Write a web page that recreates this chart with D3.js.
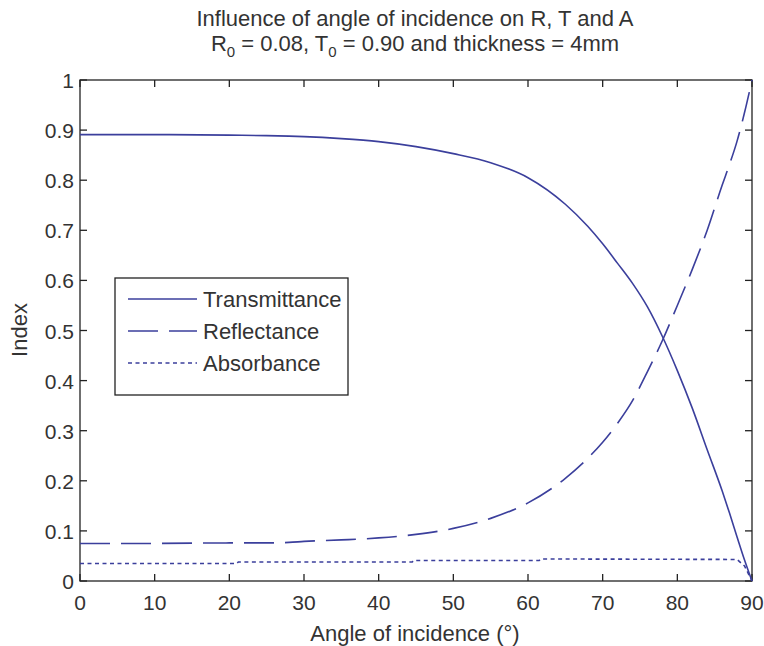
<!DOCTYPE html>
<html><head><meta charset="utf-8">
<script src="https://cdn.jsdelivr.net/npm/d3@7"></script>
<style>body{margin:0;background:#fff}svg{display:block}text{font-family:"Liberation Sans",Arial,sans-serif;fill:#333}</style>
</head><body><svg id="c" width="764" height="646"></svg>
<script>
const angles = [0,10,20,25,28,30,35,40,45,50,55,60,65,68,70,72,74,76,78,80,82,84,86,87,88,89,90];
const transmittance = [0.891,0.891,0.890,0.889,0.888,0.887,0.883,0.877,0.867,0.853,0.835,0.805,0.752,0.708,0.673,0.634,0.594,0.547,0.488,0.420,0.345,0.262,0.180,0.135,0.088,0.042,0.0];
const reflectance = [0.075,0.075,0.076,0.076,0.077,0.079,0.082,0.086,0.093,0.105,0.125,0.156,0.205,0.245,0.277,0.315,0.360,0.418,0.480,0.550,0.622,0.700,0.790,0.832,0.878,0.935,1.0];
const absAngles = [0,21,21.2,44.5,44.7,61.5,61.7,88,89,90];
const absorbance = [0.035,0.035,0.038,0.038,0.041,0.041,0.044,0.043,0.030,0.0];
const xTicks = [0,10,20,30,40,50,60,70,80,90];
const yTicks = [0,0.1,0.2,0.3,0.4,0.5,0.6,0.7,0.8,0.9,1];
const seriesNames = ["Transmittance","Reflectance","Absorbance"];
const titleLine1 = "Influence of angle of incidence on R, T and A";

const svg = d3.select("#c");
const L=80,T=80,R=752,B=581;
const x = d3.scaleLinear().domain([0,90]).range([L,R]);
const y = d3.scaleLinear().domain([0,1]).range([B,T]);
const col = "#3b3f9c";
const tl = 7;
const fs = 22;

svg.append("rect").attr("x",L).attr("y",T).attr("width",R-L).attr("height",B-T).attr("fill","none").attr("stroke","#222").attr("stroke-width",1.3);
const g = svg.append("g");
g.selectAll(".xb").data(xTicks).join("line").attr("x1",d=>x(d)).attr("x2",d=>x(d)).attr("y1",B).attr("y2",B-tl).attr("stroke","#222").attr("stroke-width",1.3);
g.selectAll(".xt").data(xTicks).join("line").attr("x1",d=>x(d)).attr("x2",d=>x(d)).attr("y1",T).attr("y2",T+tl).attr("stroke","#222").attr("stroke-width",1.3);
g.selectAll(".yl").data(yTicks).join("line").attr("x1",L).attr("x2",L+tl).attr("y1",d=>y(d)).attr("y2",d=>y(d)).attr("stroke","#222").attr("stroke-width",1.3);
g.selectAll(".yr").data(yTicks).join("line").attr("x1",R).attr("x2",R-tl).attr("y1",d=>y(d)).attr("y2",d=>y(d)).attr("stroke","#222").attr("stroke-width",1.3);
g.selectAll(".xlab").data(xTicks).join("text").attr("x",d=>x(d)).attr("y",B+29).attr("text-anchor","middle").attr("font-size",21).text(d=>d);
g.selectAll(".ylab").data(yTicks).join("text").attr("x",L-6).attr("y",d=>y(d)+8).attr("text-anchor","end").attr("font-size",21).text(d=>d);

const line = d3.line().x(d=>x(d[0])).y(d=>y(d[1])).curve(d3.curveMonotoneX);
const lineLin = d3.line().x(d=>x(d[0])).y(d=>y(d[1]));
const styles = ["none","30,11","4,3.5"];
svg.append("path").datum(angles.map((a,i)=>[a,transmittance[i]])).attr("d",line).attr("fill","none").attr("stroke",col).attr("stroke-width",1.6);
svg.append("path").datum(angles.map((a,i)=>[a,reflectance[i]])).attr("d",line).attr("fill","none").attr("stroke",col).attr("stroke-width",1.6).attr("stroke-dasharray",styles[1]);
svg.append("path").datum(absAngles.map((a,i)=>[a,absorbance[i]])).attr("d",lineLin).attr("fill","none").attr("stroke",col).attr("stroke-width",1.6).attr("stroke-dasharray",styles[2]);

svg.append("rect").attr("x",115).attr("y",278).attr("width",233).attr("height",117).attr("fill","#fff").attr("stroke","#222").attr("stroke-width",1.3);
seriesNames.forEach((n,i)=>{
  const yy = 299 + i*32;
  svg.append("line").attr("x1",128).attr("x2",197).attr("y1",yy).attr("y2",yy).attr("stroke",col).attr("stroke-width",1.6).attr("stroke-dasharray",styles[i]);
  svg.append("text").attr("x",203).attr("y",yy+8).attr("font-size",fs).text(n);
});

svg.append("text").attr("x",415).attr("y",26).attr("text-anchor","middle").attr("font-size",fs).text(titleLine1);
const t2 = svg.append("text").attr("x",415).attr("y",51).attr("text-anchor","middle").attr("font-size",fs);
t2.append("tspan").text("R");
t2.append("tspan").attr("font-size",15).attr("dy",6).text("0");
t2.append("tspan").attr("dy",-6).text(" = 0.08, T");
t2.append("tspan").attr("font-size",15).attr("dy",6).text("0");
t2.append("tspan").attr("dy",-6).text(" = 0.90 and thickness = 4mm");
svg.append("text").attr("x",415).attr("y",641).attr("text-anchor","middle").attr("font-size",fs).text("Angle of incidence (°)");
svg.append("text").attr("transform","translate(27,330) rotate(-90)").attr("text-anchor","middle").attr("font-size",fs).text("Index");
</script></body></html>
